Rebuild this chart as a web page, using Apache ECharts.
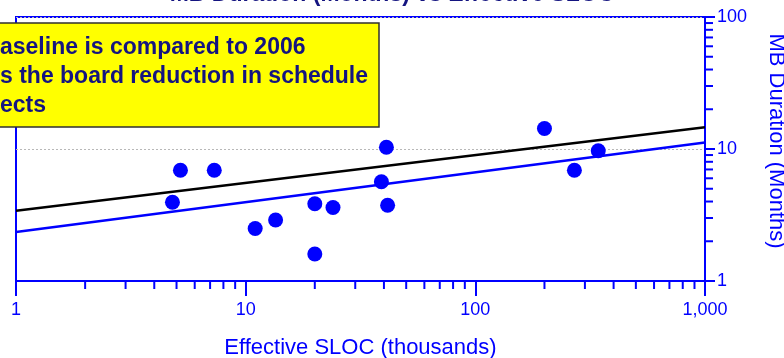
<!DOCTYPE html>
<html>
<head>
<meta charset="utf-8">
<script src="https://cdn.jsdelivr.net/npm/echarts@6/dist/echarts.min.js"></script>
<style>
  html, body { margin: 0; padding: 0; background: #ffffff; }
  #chart { width: 784px; height: 358px; }
</style>
</head>
<body>
<div id="chart"></div>
<script>
// Project size (thousands of effective SLOC) against main-build duration (months)
var slocK    = [4.8, 5.2, 7.3, 11, 13.5, 20, 20, 24, 39, 41, 41.5, 200, 270, 343];
var duration = [3.95, 6.9, 6.9, 2.5, 2.9, 3.85, 1.6, 3.6, 5.65, 10.3, 3.75, 14.3, 6.9, 9.7];

// Trend lines at the ends of the size range
var trendX        = [1, 1000];
var baselineTrend = [3.4, 14.6];   // 2006 baseline
var currentTrend  = [2.35, 11.2];  // current fit

// Axis ticks
var xMinorTicks = [2, 3, 4, 5, 6, 7, 8, 9, 20, 30, 40, 50, 60, 70, 80, 90, 200, 300, 400, 500, 600, 700, 800, 900];
var yMinorTicks = [2, 3, 4, 5, 6, 7, 8, 9, 20, 30, 40, 50, 60, 70, 80, 90];
var xTickLabels = { 1: '1', 10: '10', 100: '100', 1000: '1,000' };

var titleText = 'MB Duration (Months) vs Effective SLOC';
var noteLines = ['aseline is compared to 2006', 's the board reduction in schedule', 'ects'];

var FONT = '"Liberation Sans", Arial, sans-serif';
var BLUE = '#0000ff';
var NAVY = '#141480';

var chart = echarts.init(document.getElementById('chart'), null, { renderer: 'canvas' });

function zip(a, b) { return a.map(function (v, i) { return [v, b[i]]; }); }

chart.setOption({
  animation: false,
  backgroundColor: '#ffffff',
  title: {
    text: titleText,
    left: 'center',
    top: -17,
    padding: 0,
    textStyle: { fontFamily: FONT, fontSize: 23, fontWeight: 'bold', color: NAVY }
  },
  grid: {
    left: 16, right: 79, top: 17, bottom: 77,
    outerBoundsMode: 'none',
    containLabel: false,
    show: true, borderColor: BLUE, borderWidth: 2, backgroundColor: 'transparent'
  },
  xAxis: {
    type: 'log', logBase: 10, min: 1, max: 1000,
    name: 'Effective SLOC (thousands)',
    nameLocation: 'middle', nameGap: 56,
    nameTextStyle: { fontFamily: FONT, fontSize: 22, color: BLUE },
    axisLine: { show: true, lineStyle: { color: BLUE, width: 2 } },
    axisTick: { show: true, length: 15, lineStyle: { color: BLUE, width: 2 } },
    axisLabel: {
      fontFamily: FONT, fontSize: 18, color: BLUE, margin: 20,
      formatter: function (v) { return xTickLabels[Math.round(v)] || ''; }
    },
    splitLine: { show: false }
  },
  yAxis: {
    type: 'log', logBase: 10, min: 1, max: 100, position: 'right',
    name: 'MB Duration (Months)',
    nameLocation: 'middle', nameGap: 60, nameRotate: -90,
    nameTextStyle: { fontFamily: FONT, fontSize: 22, color: BLUE, padding: [0, 16, 0, 0] },
    axisLine: { show: true, lineStyle: { color: BLUE, width: 2 } },
    axisTick: { show: true, length: 10, lineStyle: { color: BLUE, width: 2 } },
    axisLabel: { fontFamily: FONT, fontSize: 18, color: BLUE, margin: 12 },
    splitLine: { show: true, lineStyle: { color: '#b8b8b8', type: [2, 2], width: 1 } }
  },
  series: [
    {
      type: 'line', data: zip(trendX, baselineTrend), showSymbol: false,
      lineStyle: { color: '#000000', width: 2.5 }, z: 3, silent: true
    },
    {
      type: 'line', data: zip(trendX, currentTrend), showSymbol: false,
      lineStyle: { color: BLUE, width: 2.5 }, z: 3, silent: true
    },
    {
      type: 'scatter', data: zip(slocK, duration), symbol: 'circle', symbolSize: 15,
      itemStyle: { color: BLUE, opacity: 1 }, z: 4
    },
    {
      // minor ticks on the size axis
      type: 'custom', clip: false, silent: true, z: 5,
      data: xMinorTicks.map(function (v) { return [v, 1]; }),
      renderItem: function (params, api) {
        var p = api.coord([api.value(0), api.value(1)]);
        return { type: 'line', shape: { x1: p[0], y1: p[1], x2: p[0], y2: p[1] + 8 },
                 style: { stroke: BLUE, lineWidth: 2 } };
      }
    },
    {
      // minor ticks on the duration axis
      type: 'custom', clip: false, silent: true, z: 5,
      data: yMinorTicks.map(function (v) { return [1000, v]; }),
      renderItem: function (params, api) {
        var p = api.coord([api.value(0), api.value(1)]);
        return { type: 'line', shape: { x1: p[0], y1: p[1], x2: p[0] + 8, y2: p[1] },
                 style: { stroke: BLUE, lineWidth: 2 } };
      }
    }
  ],
  graphic: [
    {
      type: 'group', z: 100,
      children: [
        { type: 'rect', shape: { x: -10, y: 23, width: 389, height: 104 },
          style: { fill: '#ffff00', stroke: '#303030', lineWidth: 1.5 } },
        { type: 'text', x: 0, y: 33,
          style: { text: noteLines.join('\n'), fontFamily: FONT, fontSize: 23, fontWeight: 'bold',
                   fill: NAVY, lineHeight: 29, textVerticalAlign: 'top' } }
      ]
    }
  ]
});
</script>
</body>
</html>
